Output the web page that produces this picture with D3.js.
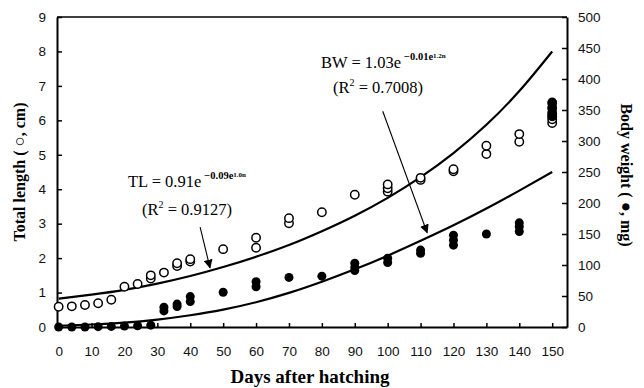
<!DOCTYPE html>
<html><head><meta charset="utf-8">
<script src="https://cdn.jsdelivr.net/npm/d3@7/dist/d3.min.js"></script>
<style>body{margin:0;background:#fff}svg{display:block}</style>
</head><body>
<script>
// ---- data ----
const xTicks = [0,10,20,30,40,50,60,70,80,90,100,110,120,130,140,150];
const yLeftTicks = [0,1,2,3,4,5,6,7,8,9];
const yRightTicks = [0,50,100,150,200,250,300,350,400,450,500];

// Total length (open circles, cm, left axis)
const tlDays = [0,4,8,12,16,20,24,28,28,32,36,36,40,40,50,60,60,70,70,80,90,100,100,100,110,110,120,120,130,130,140,140,150,150,150,150,150,150];
const tlVals = [0.59,0.6,0.64,0.69,0.79,1.17,1.25,1.41,1.5,1.58,1.77,1.85,1.9,1.97,2.26,2.3,2.59,3.01,3.16,3.33,3.84,3.93,4.03,4.14,4.27,4.33,4.52,4.58,5.02,5.26,5.38,5.6,5.92,6.03,6.12,6.2,6.35,6.5];

// Body weight (filled circles, mg, right axis)
const bwDays = [0,4,8,12,16,20,24,28,32,32,36,36,40,40,50,60,60,70,80,90,90,90,100,100,110,110,120,120,120,130,140,140,140,150,150,150,150];
const bwVals = [0,0,0,0.5,1,1.5,2,3,26,32,33,37,41,49,56,65,73,80,82,91,96,103,104,111,119,124,132,140,148,150,154,162,168,340,347,355,363];

// fitted curves
const fitDays = [0,10,20,30,40,50,60,70,80,90,100,110,120,130,140,150];
const tlFit = [0.82,0.94,1.08,1.26,1.48,1.74,2.04,2.38,2.78,3.23,3.75,4.35,5.05,5.87,6.85,8.0];
const bwFit = [2,4,7,12,19,28,40,55,73,93,115,139,164,191,220,250];

// ---- drawing ----
const W = 644, H = 388;
const svg = d3.select("body").append("svg").attr("width", W).attr("height", H);
const L = 57, R = 567, T = 17, B = 327;
const x = d3.scaleLinear().domain([-0.5, 154.5]).range([L, R]);
const yL = d3.scaleLinear().domain([0, 9]).range([B, T]);
const yR = d3.scaleLinear().domain([0, 500]).range([B, T]);

const sans = "'Liberation Sans', Arial, sans-serif";
const serif = "'Liberation Serif', 'Times New Roman', serif";

// axes
const gx = svg.append("g").attr("transform", `translate(0,${B})`)
  .call(d3.axisBottom(x).tickValues(xTicks).tickSizeInner(-4).tickSizeOuter(0).tickPadding(19));
const gl = svg.append("g").attr("transform", `translate(${L},0)`)
  .call(d3.axisLeft(yL).tickValues(yLeftTicks).tickSizeInner(-5).tickSizeOuter(0).tickPadding(11));
const gr = svg.append("g").attr("transform", `translate(${R},0)`)
  .call(d3.axisRight(yR).tickValues(yRightTicks).tickSizeInner(-5).tickSizeOuter(0).tickPadding(11));
[gx, gl, gr].forEach(g => {
  g.select(".domain").attr("stroke", "#000").attr("stroke-width", 2);
  g.selectAll(".tick line").attr("stroke", "#000").attr("stroke-width", 1.5);
  g.selectAll(".tick text").attr("font-family", sans).attr("font-size", 13.5).attr("fill", "#111");
});
// top border
svg.append("line").attr("x1", L).attr("x2", R).attr("y1", T).attr("y2", T)
  .attr("stroke", "#000").attr("stroke-width", 1.6);

// curves
const lineTL = d3.line().x((d, i) => x(fitDays[i])).y(d => yL(d)).curve(d3.curveNatural);
const lineBW = d3.line().x((d, i) => x(fitDays[i])).y(d => yR(d)).curve(d3.curveNatural);
svg.append("path").attr("d", lineTL(tlFit)).attr("fill", "none").attr("stroke", "#000").attr("stroke-width", 2.2);
svg.append("path").attr("d", lineBW(bwFit)).attr("fill", "none").attr("stroke", "#000").attr("stroke-width", 2.2);

// points
svg.append("g").selectAll("circle").data(tlVals).join("circle")
  .attr("cx", (d, i) => x(tlDays[i])).attr("cy", d => yL(d)).attr("r", 4.2)
  .attr("fill", "#fff").attr("stroke", "#000").attr("stroke-width", 1.5);
svg.append("g").selectAll("circle").data(bwVals).join("circle")
  .attr("cx", (d, i) => x(bwDays[i])).attr("cy", d => yR(d)).attr("r", 4.5)
  .attr("fill", "#000");

// arrows
const defs = svg.append("defs");
defs.append("marker").attr("id", "ah").attr("viewBox", "0 0 10 10").attr("refX", 9).attr("refY", 5)
  .attr("markerWidth", 9).attr("markerHeight", 9).attr("markerUnits", "userSpaceOnUse").attr("orient", "auto")
  .append("path").attr("d", "M0,0 L10,5 L0,10 Z").attr("fill", "#000");
svg.append("line").attr("x1", x(43)).attr("y1", yL(2.9)).attr("x2", x(46)).attr("y2", yL(1.72))
  .attr("stroke", "#000").attr("stroke-width", 1.1).attr("marker-end", "url(#ah)");
svg.append("line").attr("x1", x(98.5)).attr("y1", yR(348)).attr("x2", x(112)).attr("y2", yR(152))
  .attr("stroke", "#000").attr("stroke-width", 1.1).attr("marker-end", "url(#ah)");

// equations
function eq(xp, yp, main, sup1, sup2) {
  const t = svg.append("text").attr("x", xp).attr("y", yp).attr("font-family", serif)
    .attr("font-size", 16.5).attr("fill", "#000");
  t.append("tspan").text(main);
  t.append("tspan").attr("dx", 3).attr("dy", -8).attr("font-size", 10.5).attr("font-weight", "bold").text(sup1);
  t.append("tspan").attr("dy", -2).attr("font-size", 7).attr("font-weight", "bold").text(sup2);
}
eq(128, 187, "TL = 0.91e", "−0.09e", "1.0n");
eq(321, 68, "BW = 1.03e", "−0.01e", "1.2n");
function r2(xp, yp, val) {
  const t = svg.append("text").attr("x", xp).attr("y", yp).attr("font-family", serif)
    .attr("font-size", 16.5).attr("fill", "#000");
  t.append("tspan").text("(R");
  t.append("tspan").attr("dy", -7).attr("font-size", 10).text("2");
  t.append("tspan").attr("dy", 7).text(" = " + val + ")");
}
r2(142, 215, "0.9127");
r2(333, 93, "0.7008");

// axis titles
svg.append("text").attr("x", 310).attr("y", 383).attr("text-anchor", "middle")
  .attr("font-family", serif).attr("font-weight", "bold").attr("font-size", 19).text("Days after hatching");
const lt = svg.append("text").attr("transform", "translate(25,172) rotate(-90)").attr("text-anchor", "middle")
  .attr("font-family", serif).attr("font-weight", "bold").attr("font-size", 16);
lt.append("tspan").text("Total length ( ");
lt.append("tspan").attr("font-family", sans).attr("font-weight", "normal").attr("font-size", 17).text("○");
lt.append("tspan").text(", cm)");
const rt = svg.append("text").attr("transform", "translate(621,175) rotate(90)").attr("text-anchor", "middle")
  .attr("font-family", serif).attr("font-weight", "bold").attr("font-size", 16);
rt.append("tspan").text("Body weight ( ");
rt.append("tspan").attr("font-family", sans).attr("font-size", 17).text("●");
rt.append("tspan").text(", mg)");
</script>
</body></html>
